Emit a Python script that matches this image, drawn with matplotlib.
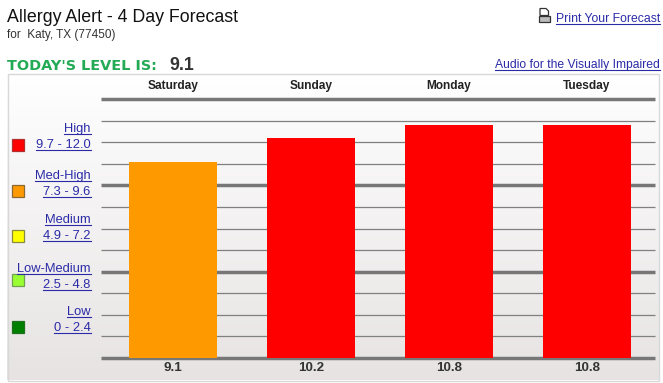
import numpy as np
import matplotlib
matplotlib.use("Agg")
import matplotlib.pyplot as plt
from matplotlib.patches import Rectangle, Polygon

plt.rcParams['font.family'] = ['Liberation Sans', 'DejaVu Sans']

days = ["Saturday", "Sunday", "Monday", "Tuesday"]
levels = [9.1, 10.2, 10.8, 10.8]
bar_colors = ["#ff9900", "#ff0000", "#ff0000", "#ff0000"]
grid_levels = [0, 1, 2, 3, 4, 5, 6, 7, 8, 9, 10, 11, 12]
legend_names = ["High", "Med-High", "Medium", "Low-Medium", "Low"]
legend_ranges = ["9.7 - 12.0", "7.3 - 9.6", "4.9 - 7.2", "2.5 - 4.8", "0 - 2.4"]
legend_colors = ["#ff0000", "#ff9900", "#ffff00", "#99ff33", "#008000"]
legend_edges = ["#b03030", "#8a6a30", "#8a8a40", "#70a050", "#207020"]

W, H = 663, 383
LINK = "#2b2ba8"
fig = plt.figure(figsize=(W / 100, H / 100), dpi=100, facecolor="white")

# page layer in pixel coords
page = fig.add_axes([0, 0, 1, 1], zorder=0)
page.set_xlim(0, W)
page.set_ylim(H, 0)
page.axis("off")

grad = np.linspace(1.0, 0.0, 256).reshape(-1, 1)
top = np.array([1.0, 1.0, 1.0])
bot = np.array([0.906, 0.890, 0.890])
img = (grad[..., None] * top + (1 - grad[..., None]) * bot)
page.imshow(img, extent=(7, 659, 380, 73), aspect="auto", zorder=1)
page.set_xlim(0, W)
page.set_ylim(H, 0)
page.add_patch(Rectangle((7.5, 73.5), 651, 307, fill=False, ec="#d8d8d8", lw=1, zorder=2))

# chart
x0, x1 = 101, 655
y_top, y_base = 99, 358
ax = fig.add_axes([x0 / W, 1 - y_base / H, (x1 - x0) / W, (y_base - y_top) / H], zorder=1)
ax.patch.set_alpha(0)
ax.set_xlim((101 - 173) / 138, (655 - 173) / 138)
ax.set_ylim(0, 12)
ax.axis("off")
for g in grid_levels:
    major = g % 4 == 0
    ax.axhline(g, color="#777777" if major else "#808080", lw=2.5 if major else 0.9, zorder=1,
               clip_on=False, solid_capstyle="butt")
ax.bar(range(len(days)), levels, width=88 / 138, color=bar_colors, zorder=2)
for i, d in enumerate(days):
    ax.text(i, 12.6, d, ha="center", va="center", fontsize=8.6, fontweight="bold", color="#222222", clip_on=False)
    ax.text(i, -0.47, str(levels[i]), ha="center", va="center", fontsize=9.6, fontweight="bold", color="#333333",
            clip_on=False)

fig.canvas.draw()
rend = fig.canvas.get_renderer()


def link(x, y, s, ha="right", size=9.25):
    t = page.text(x, y, s, ha=ha, va="baseline", fontsize=size, color=LINK, zorder=5)
    bb = t.get_window_extent(rend)
    page.plot([bb.x0, bb.x1], [y + 2, y + 2], color=LINK, lw=0.8, zorder=5)
    page.set_xlim(0, W)
    page.set_ylim(H, 0)


# header text
page.text(7, 22, "Allergy Alert - 4 Day Forecast", fontsize=12.8, color="#111111", zorder=5)
page.text(7, 38, "for  Katy, TX (77450)", fontsize=8.5, color="#333333", zorder=5)
page.text(7, 70, "TODAY'S LEVEL IS:", fontsize=10.4, fontweight="bold", color="#22aa55", family="DejaVu Sans", zorder=5)
page.text(169, 70, "9.1", fontsize=12.8, fontweight="bold", color="#333333", zorder=5)
link(660, 22, "Print Your Forecast", size=8.8)
link(660, 68, "Audio for the Visually Impaired", size=8.7)

# printer icon
page.add_patch(Polygon([(540, 8.5), (546, 8.5), (548.5, 11), (548.5, 15.5), (540, 15.5)], closed=True, fc="white", ec="#333333", lw=0.9, zorder=5))
page.add_patch(Rectangle((538.5, 15.5), 11.5, 6, fc="#bbbbbb", ec="#333333", lw=0.9, zorder=5))

# legend
swatch_y = [144.5, 191, 235.5, 279.5, 327]
name_y = [132, 179, 223, 272, 315]
range_y = [148, 195, 239, 288, 331]
for i in range(len(legend_names)):
    page.add_patch(Rectangle((11.5, swatch_y[i] - 6), 12, 12, fc=legend_colors[i], ec=legend_edges[i], lw=0.9, zorder=5))
    link(90.5, name_y[i], legend_names[i])
    link(90.5, range_y[i], legend_ranges[i])

fig.savefig("out.png", dpi=100)
